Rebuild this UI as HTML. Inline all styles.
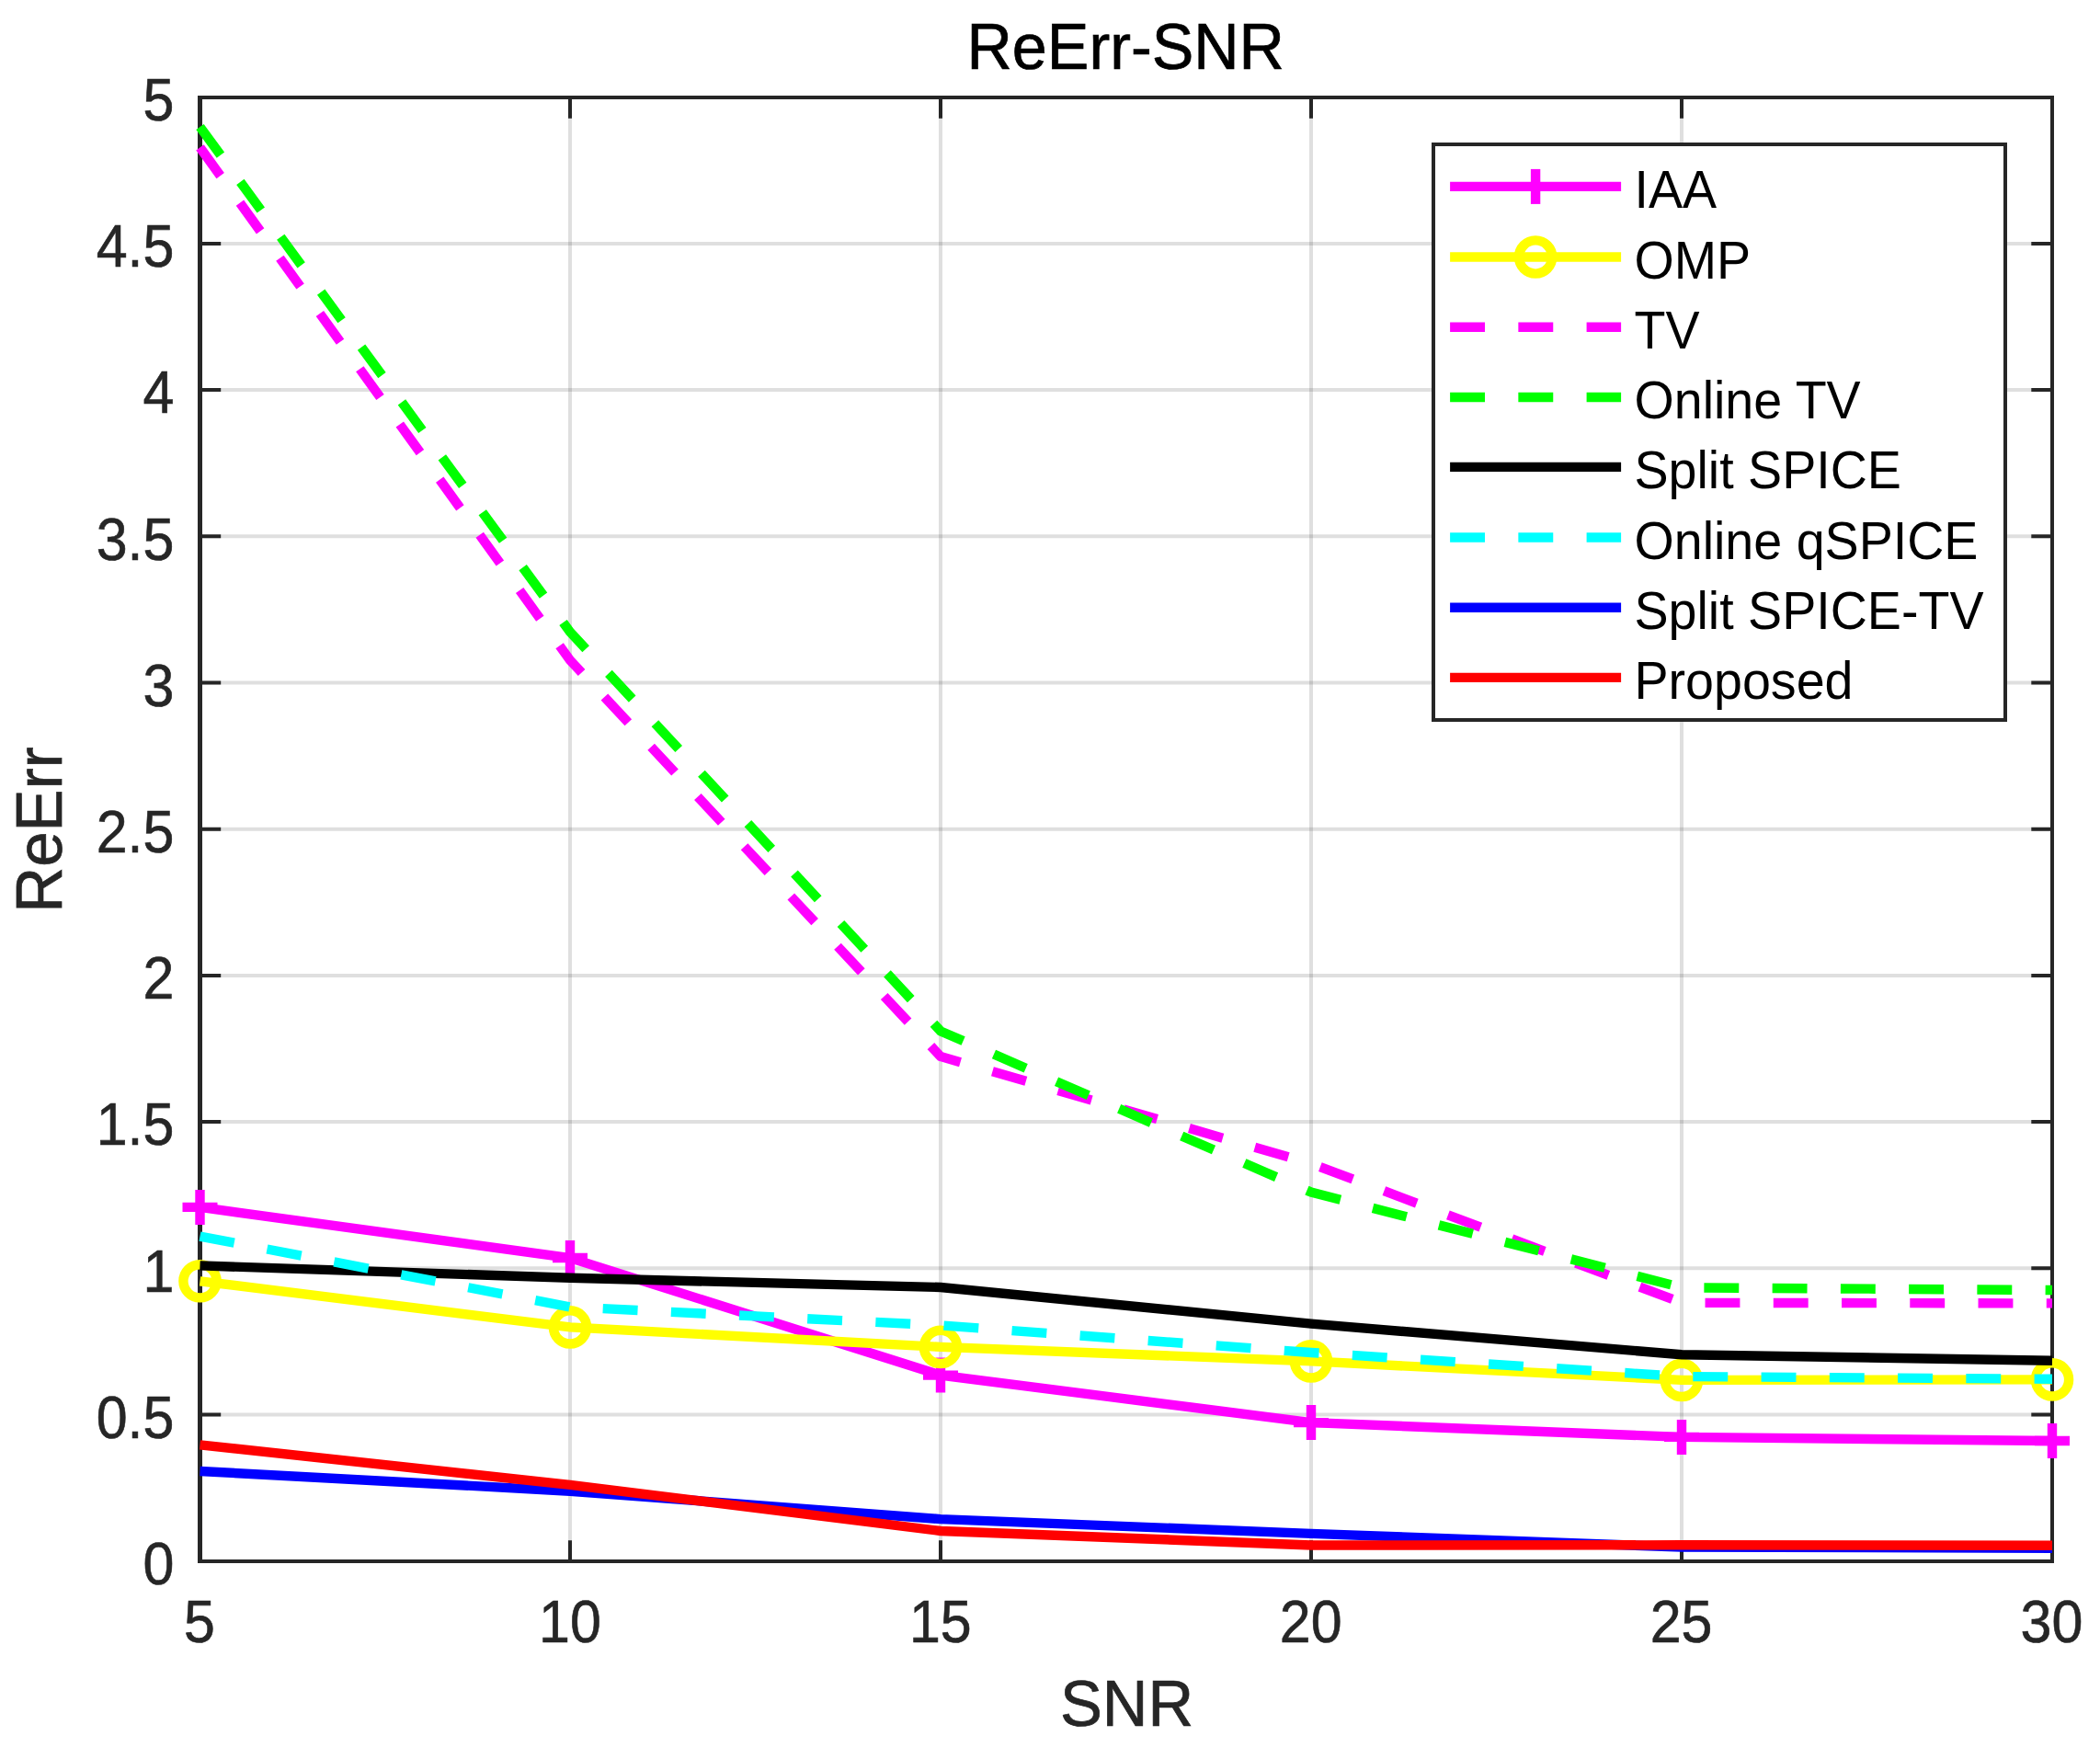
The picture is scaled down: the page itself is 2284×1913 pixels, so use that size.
<!DOCTYPE html>
<html lang="en"><head><meta charset="utf-8"><title>ReErr-SNR</title>
<style>html,body{margin:0;padding:0;background:#fff}svg{display:block}text{font-family:"Liberation Sans",sans-serif}</style></head><body>
<svg width="2284" height="1913" viewBox="0 0 2284 1913">
<rect x="0" y="0" width="2284" height="1913" fill="#fff"/>
<path d="M620 106.0 V1698.0 M1023 106.0 V1698.0 M1426 106.0 V1698.0 M1829 106.0 V1698.0" fill="none" stroke="#262626" stroke-opacity="0.15" stroke-width="4"/>
<path d="M217.5 1538.50 H2232.0 M217.5 1379.30 H2232.0 M217.5 1220.10 H2232.0 M217.5 1060.90 H2232.0 M217.5 901.70 H2232.0 M217.5 742.50 H2232.0 M217.5 583.30 H2232.0 M217.5 424.10 H2232.0 M217.5 264.90 H2232.0" fill="none" stroke="#262626" stroke-opacity="0.15" stroke-width="4"/>
<path d="M620 1698.0 v-22.7 M620 106.0 v22.7 M1023 1698.0 v-22.7 M1023 106.0 v22.7 M1426 1698.0 v-22.7 M1426 106.0 v22.7 M1829 1698.0 v-22.7 M1829 106.0 v22.7 M217.5 1538.50 h22.7 M2232.0 1538.50 h-22.7 M217.5 1379.30 h22.7 M2232.0 1379.30 h-22.7 M217.5 1220.10 h22.7 M2232.0 1220.10 h-22.7 M217.5 1060.90 h22.7 M2232.0 1060.90 h-22.7 M217.5 901.70 h22.7 M2232.0 901.70 h-22.7 M217.5 742.50 h22.7 M2232.0 742.50 h-22.7 M217.5 583.30 h22.7 M2232.0 583.30 h-22.7 M217.5 424.10 h22.7 M2232.0 424.10 h-22.7 M217.5 264.90 h22.7 M2232.0 264.90 h-22.7" fill="none" stroke="#262626" stroke-width="4"/>
<path d="M215.0 106.0 H2234.0 M215.0 1698.0 H2234.0 M2232.0 106.0 V1698.0" fill="none" stroke="#262626" stroke-width="4"/>
<path d="M217.5 104.0 V1700.0" fill="none" stroke="#262626" stroke-width="5"/>
<polyline points="217.5,1312.9 620.0,1368.0 1023.0,1495.6 1426.0,1547.1 1829.0,1562.9 2232.0,1567.0" fill="none" stroke="#ff00ff" stroke-width="10.4" stroke-linejoin="miter"/>
<path d="M198.5 1312.9 h38.0 M217.5 1293.9 v38.0 M601.0 1368.0 h38.0 M620.0 1349.0 v38.0 M1004.0 1495.6 h38.0 M1023.0 1476.6 v38.0 M1407.0 1547.1 h38.0 M1426.0 1528.1 v38.0 M1810.0 1562.9 h38.0 M1829.0 1543.9 v38.0 M2213.0 1567.0 h38.0 M2232.0 1548.0 v38.0" fill="none" stroke="#ff00ff" stroke-width="10.4"/>
<polyline points="217.5,1393.3 620.0,1443.4 1023.0,1464.9 1426.0,1480.4 1829.0,1500.9 2232.0,1500.4" fill="none" stroke="#ffff00" stroke-width="10.4" stroke-linejoin="miter"/>
<circle cx="217.5" cy="1393.3" r="18.1" fill="none" stroke="#ffff00" stroke-width="10.4"/>
<circle cx="620.0" cy="1443.4" r="18.1" fill="none" stroke="#ffff00" stroke-width="10.4"/>
<circle cx="1023.0" cy="1464.9" r="18.1" fill="none" stroke="#ffff00" stroke-width="10.4"/>
<circle cx="1426.0" cy="1480.4" r="18.1" fill="none" stroke="#ffff00" stroke-width="10.4"/>
<circle cx="1829.0" cy="1500.9" r="18.1" fill="none" stroke="#ffff00" stroke-width="10.4"/>
<circle cx="2232.0" cy="1500.4" r="18.1" fill="none" stroke="#ffff00" stroke-width="10.4"/>
<polyline points="217.5,160.4 620.0,718.0 1023.0,1149.0 1426.0,1265.4 1829.0,1416.8 2232.0,1417.4" fill="none" stroke="#ff00ff" stroke-width="10.4" stroke-linejoin="miter" stroke-dasharray="37.9 36.35"/>
<polyline points="217.5,138.0 620.0,687.2 1023.0,1121.4 1426.0,1296.6 1829.0,1400.3 2232.0,1403.0" fill="none" stroke="#00ff00" stroke-width="10.4" stroke-linejoin="miter" stroke-dasharray="37.9 36.35"/>
<polyline points="217.5,1376.4 620.0,1389.8 1023.0,1400.0 1426.0,1439.6 1829.0,1473.2 2232.0,1479.8" fill="none" stroke="#000000" stroke-width="10.4" stroke-linejoin="miter"/>
<polyline points="217.5,1344.6 620.0,1421.4 1023.0,1441.4 1426.0,1471.0 1829.0,1497.0 2232.0,1499.8" fill="none" stroke="#00ffff" stroke-width="10.4" stroke-linejoin="miter" stroke-dasharray="37.9 36.35"/>
<polyline points="217.5,1600.0 620.0,1621.7 1023.0,1652.1 1426.0,1667.9 1829.0,1682.6 2232.0,1683.7" fill="none" stroke="#0000ff" stroke-width="10.4" stroke-linejoin="miter"/>
<polyline points="217.5,1571.4 620.0,1614.9 1023.0,1665.0 1426.0,1680.5 1829.0,1680.3 2232.0,1680.8" fill="none" stroke="#ff0000" stroke-width="10.4" stroke-linejoin="miter"/>
<rect x="1559.0" y="157.0" width="622.0" height="626.0" fill="#fff" stroke="#262626" stroke-width="4"/>
<path d="M1577.1 202.9 H1763.1" fill="none" stroke="#ff00ff" stroke-width="10.4"/>
<path d="M1670.1 183.9 v38.0" fill="none" stroke="#ff00ff" stroke-width="10.4"/>
<text transform="translate(1777.5 226.0) scale(1 1.03)" font-size="55.6" fill="#000">IAA</text>
<path d="M1577.1 279.5 H1763.1" fill="none" stroke="#ffff00" stroke-width="10.4"/>
<circle cx="1670.1" cy="279.5" r="18.1" fill="none" stroke="#ffff00" stroke-width="10.4"/>
<text transform="translate(1777.5 302.6) scale(1 1.03)" font-size="55.6" fill="#000">OMP</text>
<path d="M1577.1 355.8 H1763.1" fill="none" stroke="#ff00ff" stroke-width="10.4" stroke-dasharray="37.9 36.35"/>
<text transform="translate(1777.5 378.9) scale(1 1.03)" font-size="55.6" fill="#000">TV</text>
<path d="M1577.1 432.0 H1763.1" fill="none" stroke="#00ff00" stroke-width="10.4" stroke-dasharray="37.9 36.35"/>
<text transform="translate(1777.5 455.1) scale(1 1.03)" font-size="55.6" fill="#000">Online TV</text>
<path d="M1577.1 507.9 H1763.1" fill="none" stroke="#000000" stroke-width="10.4"/>
<text transform="translate(1777.5 531.0) scale(1 1.03)" font-size="55.6" fill="#000">Split SPICE</text>
<path d="M1577.1 584.5 H1763.1" fill="none" stroke="#00ffff" stroke-width="10.4" stroke-dasharray="37.9 36.35"/>
<text transform="translate(1777.5 607.6) scale(1 1.03)" font-size="55.6" fill="#000">Online qSPICE</text>
<path d="M1577.1 660.8 H1763.1" fill="none" stroke="#0000ff" stroke-width="10.4"/>
<text transform="translate(1777.5 683.9) scale(1 1.03)" font-size="55.6" fill="#000">Split SPICE-TV</text>
<path d="M1577.1 736.9 H1763.1" fill="none" stroke="#ff0000" stroke-width="10.4"/>
<text transform="translate(1777.5 760.0) scale(1 1.03)" font-size="55.6" fill="#000">Proposed</text>
<text transform="translate(189.4 1722.9) scale(0.975 1.03)" stroke="#262626" stroke-width="0.6" font-size="62.5" fill="#262626" text-anchor="end">0</text>
<text transform="translate(189.4 1563.7) scale(0.975 1.03)" stroke="#262626" stroke-width="0.6" font-size="62.5" fill="#262626" text-anchor="end">0.5</text>
<text transform="translate(189.4 1404.5) scale(0.975 1.03)" stroke="#262626" stroke-width="0.6" font-size="62.5" fill="#262626" text-anchor="end">1</text>
<text transform="translate(189.4 1245.3) scale(0.975 1.03)" stroke="#262626" stroke-width="0.6" font-size="62.5" fill="#262626" text-anchor="end">1.5</text>
<text transform="translate(189.4 1086.1) scale(0.975 1.03)" stroke="#262626" stroke-width="0.6" font-size="62.5" fill="#262626" text-anchor="end">2</text>
<text transform="translate(189.4 926.9) scale(0.975 1.03)" stroke="#262626" stroke-width="0.6" font-size="62.5" fill="#262626" text-anchor="end">2.5</text>
<text transform="translate(189.4 767.7) scale(0.975 1.03)" stroke="#262626" stroke-width="0.6" font-size="62.5" fill="#262626" text-anchor="end">3</text>
<text transform="translate(189.4 608.5) scale(0.975 1.03)" stroke="#262626" stroke-width="0.6" font-size="62.5" fill="#262626" text-anchor="end">3.5</text>
<text transform="translate(189.4 449.3) scale(0.975 1.03)" stroke="#262626" stroke-width="0.6" font-size="62.5" fill="#262626" text-anchor="end">4</text>
<text transform="translate(189.4 290.1) scale(0.975 1.03)" stroke="#262626" stroke-width="0.6" font-size="62.5" fill="#262626" text-anchor="end">4.5</text>
<text transform="translate(189.4 130.9) scale(0.975 1.03)" stroke="#262626" stroke-width="0.6" font-size="62.5" fill="#262626" text-anchor="end">5</text>
<text transform="translate(217.0 1786.4) scale(0.975 1.03)" stroke="#262626" stroke-width="0.6" font-size="62.5" fill="#262626" text-anchor="middle">5</text>
<text transform="translate(619.9 1786.4) scale(0.975 1.03)" stroke="#262626" stroke-width="0.6" font-size="62.5" fill="#262626" text-anchor="middle">10</text>
<text transform="translate(1022.8 1786.4) scale(0.975 1.03)" stroke="#262626" stroke-width="0.6" font-size="62.5" fill="#262626" text-anchor="middle">15</text>
<text transform="translate(1425.7 1786.4) scale(0.975 1.03)" stroke="#262626" stroke-width="0.6" font-size="62.5" fill="#262626" text-anchor="middle">20</text>
<text transform="translate(1828.6 1786.4) scale(0.975 1.03)" stroke="#262626" stroke-width="0.6" font-size="62.5" fill="#262626" text-anchor="middle">25</text>
<text transform="translate(2231.5 1786.4) scale(0.975 1.03)" stroke="#262626" stroke-width="0.6" font-size="62.5" fill="#262626" text-anchor="middle">30</text>
<text transform="translate(1224.2 74.7) scale(0.994 1.02)" stroke="#000" stroke-width="0.7" font-size="68.75" fill="#000" text-anchor="middle">ReErr-SNR</text>
<text transform="translate(1225.5 1876.6) scale(1 1.02)" stroke="#262626" stroke-width="0.7" font-size="68.75" fill="#262626" text-anchor="middle">SNR</text>
<text transform="translate(66.6 902.5) rotate(-90) scale(1.005 1.02)" stroke="#262626" stroke-width="0.7" font-size="68.75" fill="#262626" text-anchor="middle">ReErr</text>
</svg></body></html>
